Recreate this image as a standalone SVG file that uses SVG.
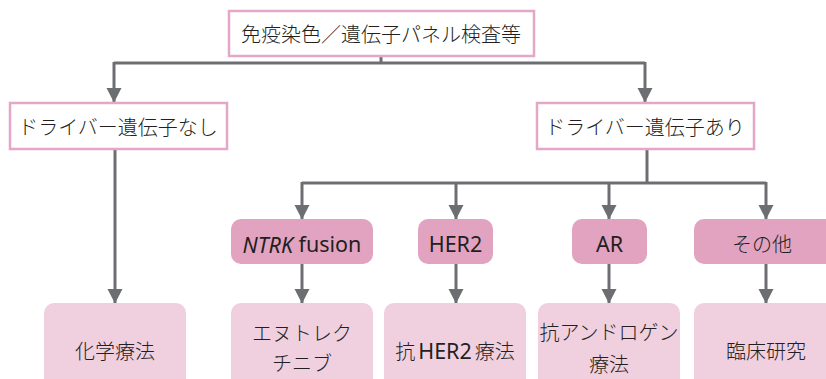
<svg xmlns="http://www.w3.org/2000/svg" width="826" height="379" viewBox="0 0 826 379">
  <style>
    .t { font-family: "Noto Sans CJK JP", "Noto Sans", sans-serif; font-size: 20px; font-weight: 300; fill: #231f20; text-anchor: middle; dominant-baseline: central; }
    .lat { font-family: "Noto Sans", "Noto Sans CJK JP", sans-serif; font-weight: 400; font-size: 21.5px; }
    .wbox { fill: #ffffff; stroke: #e4a7c7; stroke-width: 2.5; }
    .pill { fill: #e2a3c0; }
    .res { fill: #f0cfdf; }
    .conn { fill: none; stroke: #6d6e71; stroke-width: 3; }
  </style>
  <defs>
    <marker id="ah" markerUnits="userSpaceOnUse" markerWidth="15" markerHeight="16" viewBox="0 0 15 16" refX="14" refY="8" orient="auto">
      <path d="M0,0.5 L14.5,8 L0,15.5 Z" fill="#6d6e71"/>
    </marker>
  </defs>

  <g id="connectors">
    <path class="conn" d="M381,56 V63"/>
    <path class="conn" d="M114,63 H645"/>
    <path class="conn" d="M114,62 V102" marker-end="url(#ah)"/>
    <path class="conn" d="M645,62 V102" marker-end="url(#ah)"/>
    <path class="conn" d="M115,149 V303" marker-end="url(#ah)"/>
    <path class="conn" d="M647,149 V183"/>
    <path class="conn" d="M302,183 H766"/>
    <path class="conn" d="M302,182 V219" marker-end="url(#ah)"/>
    <path class="conn" d="M456,182 V219" marker-end="url(#ah)"/>
    <path class="conn" d="M609,182 V219" marker-end="url(#ah)"/>
    <path class="conn" d="M766,182 V219" marker-end="url(#ah)"/>
    <path class="conn" d="M302,264 V303" marker-end="url(#ah)"/>
    <path class="conn" d="M456,264 V303" marker-end="url(#ah)"/>
    <path class="conn" d="M609,264 V303" marker-end="url(#ah)"/>
    <path class="conn" d="M766,264 V303" marker-end="url(#ah)"/>
  </g>

  <g id="test">
    <rect class="wbox" x="229" y="11" width="305" height="45"/>
    <text class="t" x="381" y="33.5">免疫染色／遺伝子パネル検査等</text>
  </g>
  <g id="no-driver">
    <rect class="wbox" x="10" y="103" width="217" height="46"/>
    <text class="t" x="118" y="126">ドライバー遺伝子なし</text>
  </g>
  <g id="driver">
    <rect class="wbox" x="537" y="103" width="217" height="46"/>
    <text class="t" x="645" y="126">ドライバー遺伝子あり</text>
  </g>

  <g id="ntrk">
    <rect class="pill" x="231" y="219" width="142" height="45" rx="10"/>
    <text class="t lat" x="302" y="243.5"><tspan font-style="italic">NTRK</tspan> fusion</text>
  </g>
  <g id="her2">
    <rect class="pill" x="418" y="219" width="75" height="45" rx="10"/>
    <text class="t lat" x="455.5" y="243.5">HER2</text>
  </g>
  <g id="ar">
    <rect class="pill" x="572" y="219" width="75" height="45" rx="10"/>
    <text class="t lat" x="609.5" y="243.5">AR</text>
  </g>
  <g id="other">
    <rect class="pill" x="694" y="219" width="144" height="45" rx="10"/>
    <text class="t" x="762" y="243.5">その他</text>
  </g>

  <g id="chemo">
    <rect class="res" x="44" y="303" width="142" height="95" rx="10"/>
    <text class="t" x="115" y="350">化学療法</text>
  </g>
  <g id="entrectinib">
    <rect class="res" x="231" y="303" width="142" height="95" rx="10"/>
    <text class="t" x="302" y="332">エヌトレク</text>
    <text class="t" x="302" y="362">チニブ</text>
  </g>
  <g id="anti-her2">
    <rect class="res" x="384" y="303" width="142" height="95" rx="10"/>
    <text class="t" x="455" y="350">抗<tspan class="lat" font-size="20" dx="3">HER2</tspan><tspan dx="3">療法</tspan></text>
  </g>
  <g id="anti-androgen">
    <rect class="res" x="538" y="303" width="142" height="95" rx="10"/>
    <text class="t" x="609" y="331">抗アンドロゲン</text>
    <text class="t" x="609" y="363">療法</text>
  </g>
  <g id="trial">
    <rect class="res" x="694" y="303" width="144" height="95" rx="10"/>
    <text class="t" x="766" y="350">臨床研究</text>
  </g>
</svg>
